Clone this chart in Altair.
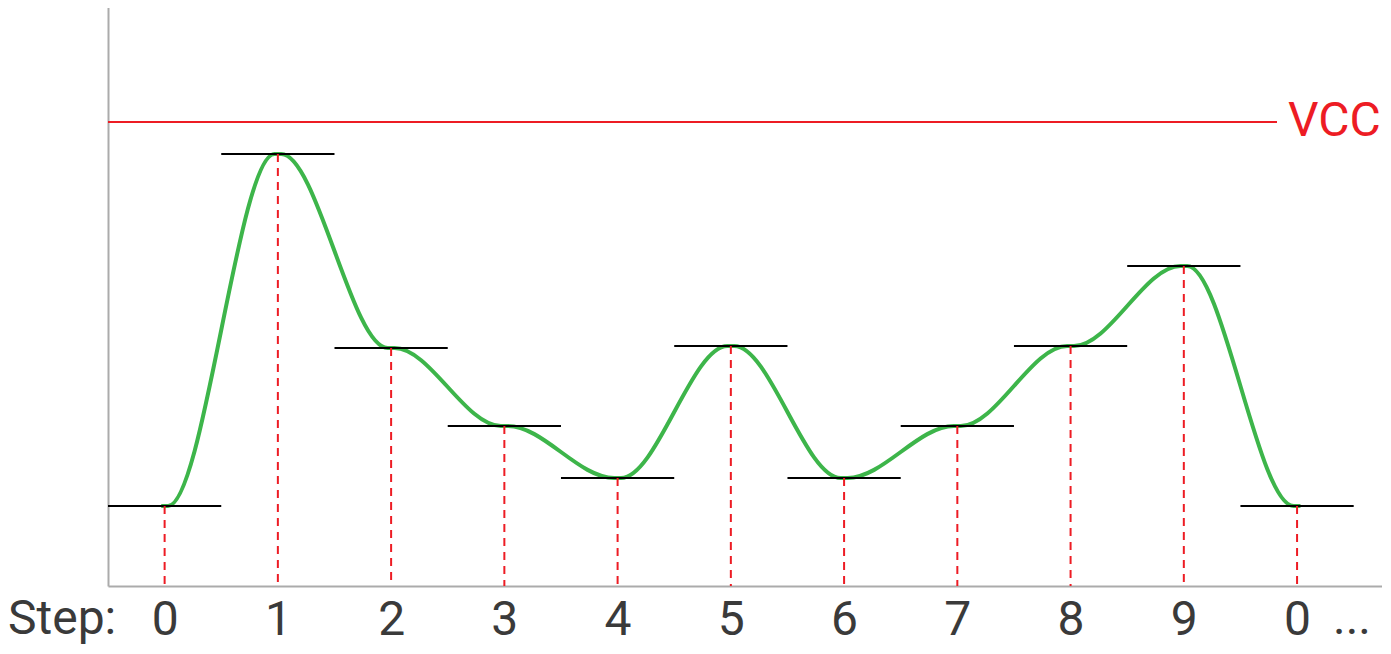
import json

import altair as alt
import pandas as pd

steps = list(range(11))
step_labels = ["0", "1", "2", "3", "4", "5", "6", "7", "8", "9", "0"]
levels = [10, 54, 29.75, 20, 13.5, 30, 13.5, 20, 30, 40, 10]
vcc_level = 58
vcc_label = "VCC"
axis_title = "Step:"
more_label = "..."

GREEN = "#3db54a"
RED = "#ed1c24"
GREY = "#ababab"
TEXT = "#3a3a3a"
FONT_SIZE = 48
PLOT_H = 586
LABEL_Y = 634

df = pd.DataFrame({"step": steps, "level": levels})

# each level is held for a moment at its step, so the curve flattens there
hold = 0.03
curve = pd.DataFrame({
    "t": [s + d for s in steps for d in (-hold, hold)],
    "level": [lv for lv in levels for _ in (0, 1)],
})

x_scale = alt.Scale(domain=[-0.5, 10.75], nice=False, zero=False)
y_scale = alt.Scale(domain=[0, 73.25], nice=False)

x_axis = alt.Axis(
    values=steps,
    labelExpr=f"{json.dumps(step_labels)}[datum.value]",
    title=None,
    ticks=False,
    grid=False,
    labelFontSize=FONT_SIZE,
    labelColor=TEXT,
    labelBaseline="alphabetic",
    labelPadding=LABEL_Y - PLOT_H,
    labelFlush=False,
    labelOverlap=False,
    domainColor=GREY,
    domainWidth=2,
)
y_axis = alt.Axis(
    labels=False, ticks=False, grid=False, title=None,
    domainColor=GREY, domainWidth=2,
)

signal = (
    alt.Chart(curve)
    .mark_line(color=GREEN, strokeWidth=4, interpolate="monotone")
    .encode(
        x=alt.X("t:Q", scale=x_scale, axis=x_axis),
        y=alt.Y("level:Q", scale=y_scale, axis=y_axis),
    )
)

plateaus = (
    alt.Chart(df)
    .transform_calculate(lo="datum.step - 0.5", hi="datum.step + 0.5")
    .mark_rule(color="black", strokeWidth=2)
    .encode(x="lo:Q", x2="hi:Q", y="level:Q")
)

drops = (
    alt.Chart(df)
    .mark_rule(color=RED, strokeWidth=2, strokeDash=[8, 6])
    .encode(x="step:Q", y="level:Q", y2=alt.datum(0))
)

vcc_df = pd.DataFrame({"level": [vcc_level], "label": [vcc_label]})
vcc_line = (
    alt.Chart(vcc_df)
    .mark_rule(color=RED, strokeWidth=2)
    .encode(x=alt.value(0), x2=alt.value(1169), y="level:Q")
)
vcc_text = (
    alt.Chart(vcc_df)
    .mark_text(align="left", baseline="alphabetic", dy=14, fontSize=FONT_SIZE, color=RED)
    .encode(x=alt.value(1180), y="level:Q", text="label:N")
)

title_text = (
    alt.Chart(pd.DataFrame({"label": [axis_title]}))
    .mark_text(align="left", baseline="alphabetic", fontSize=FONT_SIZE, color=TEXT)
    .encode(x=alt.value(-100), y=alt.value(LABEL_Y), text="label:N")
)
more_text = (
    alt.Chart(pd.DataFrame({"label": [more_label]}))
    .mark_text(align="left", baseline="alphabetic", fontSize=FONT_SIZE, color=TEXT)
    .encode(x=alt.value(1225), y=alt.value(LABEL_Y), text="label:N")
)

chart = (
    alt.layer(signal, plateaus, drops, vcc_line, vcc_text, title_text, more_text)
    .properties(
        width=1274,
        height=PLOT_H,
        autosize=alt.AutoSizeParams(type="none"),
        padding={"left": 100, "top": -8, "right": 0, "bottom": 60},
    )
    .configure(font="Roboto")
    .configure_view(stroke=None)
)

chart.save("out.html", embed_options={"renderer": "svg", "actions": False})
